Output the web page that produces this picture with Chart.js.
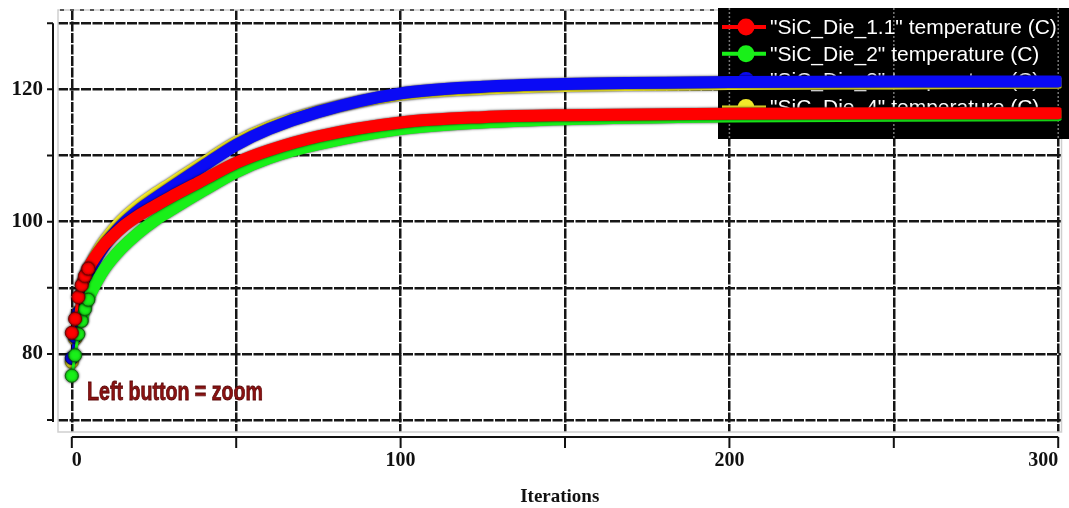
<!DOCTYPE html>
<html>
<head>
<meta charset="utf-8">
<script src="https://cdn.jsdelivr.net/npm/chart.js@4/dist/chart.umd.min.js"></script>
<style>
  html, body { margin: 0; padding: 0; background: #fff; }
  #chart { display: block; }
</style>
</head>
<body>
<canvas id="chart" width="1069" height="508"></canvas>
<script>
// ─── Data ───
const iterations = [0, 1, 2, 3, 4, 5, 6, 8, 10, 12, 15, 20, 25, 30, 40, 50, 60, 75, 100, 125, 150, 200, 250, 300];

const die11 = [83.2, 85.3, 88.6, 90.4, 91.8, 92.9, 93.8, 95.3, 96.6, 97.6, 99.0, 100.8, 102.3, 103.7, 106.3, 108.9, 110.8, 112.9, 115.0, 115.8, 116.1, 116.3, 116.4, 116.4];
const die2  = [76.7, 79.8, 83.0, 85.0, 86.8, 88.2, 89.4, 91.3, 92.9, 94.2, 95.9, 98.2, 100.1, 101.7, 104.7, 107.5, 109.6, 111.7, 114.0, 115.0, 115.5, 115.9, 116.0, 116.1];
const die3  = [79.4, 82.6, 86.2, 88.6, 90.4, 91.8, 93.0, 94.9, 96.4, 97.7, 99.4, 101.6, 103.4, 105.1, 108.4, 111.6, 114.0, 116.6, 119.4, 120.4, 120.8, 121.1, 121.2, 121.2];
const die4  = [78.8, 82.3, 86.3, 89.0, 91.0, 92.5, 93.7, 95.6, 97.1, 98.4, 100.1, 102.3, 104.1, 105.7, 108.9, 112.0, 114.3, 116.7, 119.2, 120.1, 120.5, 120.8, 120.9, 121.0];

const seriesNames  = ['"SiC_Die_1.1" temperature (C)', '"SiC_Die_2" temperature (C)', '"SiC_Die_3" temperature (C)', '"SiC_Die_4" temperature (C)'];
const seriesColors = ['#ff0000', '#19f019', '#0a0af5', '#f2ea2a'];
const seriesEdges  = ['#7a0000', '#0b6a0b', '#05056e', '#8a8210'];

const yLabelTicks = [80, 100, 120];
const xLabelTicks = [0, 100, 200, 300];

// ─── Helpers ───
function toPoints(values) {
  return iterations.map((it, i) => ({ x: it, y: values[i] }));
}

function makeSeries(idx, values) {
  return {
    label: seriesNames[idx],
    data: toPoints(values),
    borderColor: seriesColors[idx],
    backgroundColor: seriesColors[idx],
    borderWidth: 12,
    borderJoinStyle: 'round',
    borderCapStyle: 'round',
    cubicInterpolationMode: 'monotone',
    segment: {
      borderWidth: ctx => ctx.p0.parsed.x < 3 ? 3 : 12
    },
    pointRadius: ctx => (ctx.raw && ctx.raw.x <= 5) ? 6.5 : 0,
    pointBackgroundColor: seriesColors[idx],
    pointBorderColor: seriesEdges[idx],
    pointBorderWidth: 1,
    fill: false
  };
}

// no auto padding for edge labels – keep the plot box where the picture has it
function noEdgePad(s) {
  s.paddingLeft = 0; s.paddingRight = 0; s.paddingTop = 0; s.paddingBottom = 0;
}

// ─── Axes, frame and legend drawn under the data ───
const decorPlugin = {
  id: 'decor',
  beforeDatasetsDraw(chart) {
    const { ctx, chartArea: a, scales: { x, y } } = chart;
    ctx.save();

    // light frame
    ctx.strokeStyle = '#cfcfcf';
    ctx.lineWidth = 1.5;
    ctx.strokeRect(a.left, a.top, a.right - a.left, a.bottom - a.top);

    // dotted top line
    ctx.strokeStyle = '#555';
    ctx.lineWidth = 2;
    ctx.setLineDash([4, 6]);
    ctx.beginPath();
    ctx.moveTo(a.left + 2, a.top);
    ctx.lineTo(a.right, a.top);
    ctx.stroke();
    ctx.setLineDash([]);

    // y axis line + ticks
    ctx.strokeStyle = '#111';
    ctx.lineWidth = 2;
    const yx = a.left - 5;
    ctx.beginPath();
    ctx.moveTo(yx, y.getPixelForValue(130));
    ctx.lineTo(yx, y.getPixelForValue(70) + 2);
    for (let v = 70; v <= 130; v += 10) {
      const py = y.getPixelForValue(v);
      ctx.moveTo(yx - 6, py);
      ctx.lineTo(yx, py);
    }
    ctx.stroke();

    // x axis line + ticks
    const xy = a.bottom + 5;
    ctx.beginPath();
    ctx.moveTo(x.getPixelForValue(0), xy);
    ctx.lineTo(x.getPixelForValue(300), xy);
    for (let v = 0; v <= 300; v += 50) {
      const px = x.getPixelForValue(v);
      ctx.moveTo(px, xy);
      ctx.lineTo(px, xy + 11);
    }
    ctx.stroke();

    // legend box (black, under the curves)
    const lx = 718, ly = 8, lw = chart.width - lx, lh = 131;
    ctx.fillStyle = '#000';
    ctx.fillRect(lx, ly, lw, lh);

    // grid lines faintly showing through
    ctx.strokeStyle = '#777';
    ctx.lineWidth = 1.5;
    ctx.setLineDash([2, 2]);
    [200, 250, 300].forEach(v => {
      const px = x.getPixelForValue(v);
      ctx.beginPath();
      ctx.moveTo(px, ly);
      ctx.lineTo(px, ly + lh);
      ctx.stroke();
    });
    ctx.setLineDash([]);

    ctx.font = '21px "Liberation Sans", Arial, sans-serif';
    ctx.textBaseline = 'middle';
    seriesNames.forEach((name, i) => {
      const cy = 27 + i * 26.8;
      ctx.strokeStyle = seriesColors[i];
      ctx.lineWidth = 4;
      ctx.beginPath();
      ctx.moveTo(722, cy);
      ctx.lineTo(766, cy);
      ctx.stroke();
      ctx.fillStyle = seriesColors[i];
      ctx.beginPath();
      ctx.arc(746, cy, 8.5, 0, Math.PI * 2);
      ctx.fill();
      ctx.fillStyle = '#fff';
      ctx.fillText(name, 770, cy + 1);
    });

    ctx.restore();
  },
  // thin dark edge round the thick bands, like the overlapping markers
  beforeDatasetDraw(chart) {
    chart.ctx.save();
    chart.ctx.shadowColor = 'rgba(0,0,0,0.85)';
    chart.ctx.shadowBlur = 2.5;
  },
  afterDatasetDraw(chart) {
    chart.ctx.restore();
  },
  afterDraw(chart) {
    const { ctx } = chart;
    ctx.save();
    ctx.font = 'bold 25px "Liberation Sans", Arial, sans-serif';
    const txt = 'Left button = zoom';
    const w = ctx.measureText(txt).width;
    ctx.translate(87, 400);
    ctx.scale(176 / w, 1);
    ctx.fillStyle = '#8a1212';
    ctx.strokeStyle = '#5a0808';
    ctx.lineWidth = 0.8;
    ctx.textBaseline = 'alphabetic';
    ctx.fillText(txt, 0, 0);
    ctx.strokeText(txt, 0, 0);
    ctx.restore();
  }
};

const gridStyle = { color: '#161616', lineWidth: 2.5, drawTicks: false };
const tickFont = { family: '"Liberation Serif", "Times New Roman", serif', size: 21, weight: 'bold' };

// ─── Chart ───
new Chart(document.getElementById('chart').getContext('2d'), {
  type: 'line',
  data: {
    datasets: [
      makeSeries(0, die11),
      makeSeries(1, die2),
      makeSeries(2, die3),
      makeSeries(3, die4)
    ]
  },
  options: {
    responsive: false,
    devicePixelRatio: 1,
    animation: false,
    layout: { padding: { top: 10, right: 0, left: 0, bottom: 0 } },
    plugins: { legend: { display: false }, tooltip: { enabled: false } },
    scales: {
      x: {
        type: 'linear',
        min: -4.2,
        max: 301,
        afterFit: s => { s.height = 76; noEdgePad(s); },
        grid: gridStyle,
        border: { display: false, dash: [10, 1.5] },
        ticks: {
          stepSize: 50,
          includeBounds: false,
          autoSkip: false,
          maxRotation: 0,
          align: 'inner',
          padding: 17,
          color: '#111',
          font: { ...tickFont, size: 20 },
          callback: v => xLabelTicks.includes(v) ? String(v) : ''
        },
        title: {
          display: true,
          text: 'Iterations',
          color: '#111',
          font: { family: '"Liberation Serif", "Times New Roman", serif', size: 19, weight: 'bold' },
          padding: { top: 0, bottom: 0 }
        }
      },
      y: {
        min: 68.2,
        max: 132,
        afterFit: s => { s.width = 58; noEdgePad(s); },
        grid: gridStyle,
        border: { display: false, dash: [10, 1.5] },
        ticks: {
          stepSize: 10,
          includeBounds: false,
          autoSkip: false,
          padding: 15,
          color: '#111',
          font: tickFont,
          callback: v => yLabelTicks.includes(v) ? String(v) : ''
        }
      }
    }
  },
  plugins: [decorPlugin]
});
</script>
</body>
</html>
